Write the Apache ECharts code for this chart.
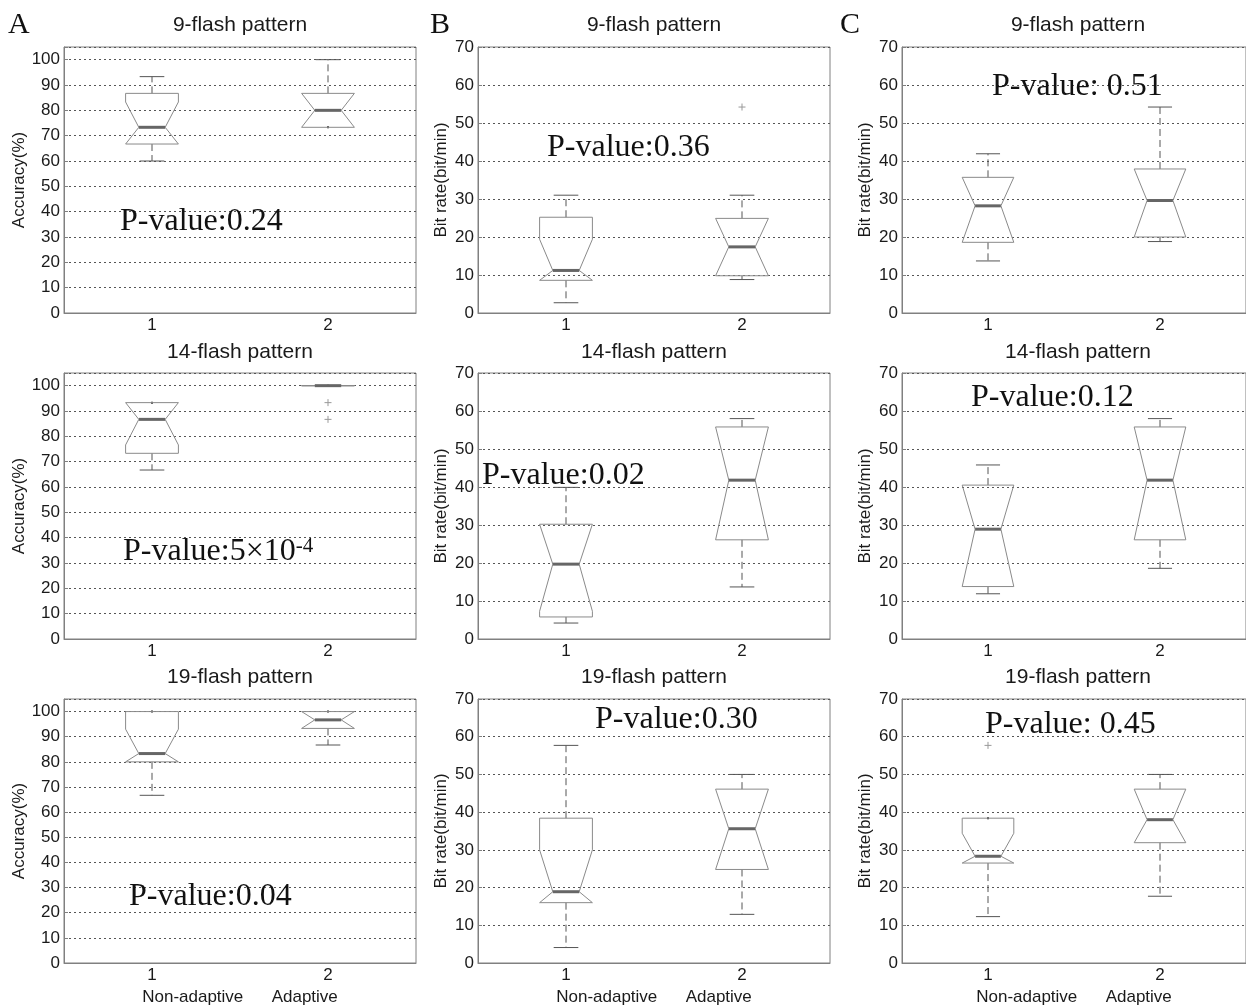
<!DOCTYPE html>
<html><head><meta charset="utf-8">
<script src="https://cdn.jsdelivr.net/npm/echarts@6/dist/echarts.min.js"></script>
<style>html,body{margin:0;padding:0;background:#fff;}#chart{width:1246px;height:1007px;}</style>
</head><body><div id="chart"></div>
<script>
// ---------- data ----------
const categories = ['1', '2'];
const groupNames = ['Non-adaptive', 'Adaptive'];
const rowTitles = ['9-flash pattern', '14-flash pattern', '19-flash pattern'];
const panelLetters = ['A', 'B', 'C'];
const yAxisNames = ['Accuracy(%)', 'Bit rate(bit/min)', 'Bit rate(bit/min)'];
const yAxisMax = [105, 70, 70];
const yTickStep = 10;

// stats per box: [whisker low, Q1, notch low, median, notch high, Q3, whisker high]
const accuracy9  = [[60, 66.7, 66.7, 73.3, 83.3, 86.7, 93.3], [73.3, 73.3, 73.3, 80, 86.7, 86.7, 100]];
const accuracy14 = [[66.7, 73.3, 76.6, 86.7, 93.3, 93.3, 93.3], [100, 100, 100, 100, 100, 100, 100]];
const accuracy19 = [[66.7, 80, 80, 83.3, 93.0, 100, 100], [86.7, 93.3, 93.3, 96.7, 100, 100, 100]];
const bitRateB9  = [[2.7, 8.6, 8.6, 11.2, 19.4, 25.2, 31.0], [8.8, 9.8, 9.8, 17.4, 24.9, 24.9, 31.0]];
const bitRateB14 = [[4.2, 5.8, 7.3, 19.7, 30.2, 30.2, 39.9], [13.7, 26.1, 26.1, 41.8, 55.8, 55.8, 58.0]];
const bitRateB19 = [[4.1, 16.0, 16.0, 18.9, 30.0, 38.4, 57.7], [12.9, 24.8, 24.8, 35.6, 46.1, 46.1, 50.0]];
const bitRateC9  = [[13.7, 18.6, 18.6, 28.2, 35.7, 35.7, 41.9], [18.8, 20.0, 20.0, 29.6, 37.9, 37.9, 54.2]];
const bitRateC14 = [[11.9, 13.8, 13.8, 28.9, 40.5, 40.5, 45.8], [18.6, 26.1, 26.1, 41.8, 55.8, 55.8, 58.0]];
const bitRateC19 = [[12.3, 26.5, 26.5, 28.3, 34.4, 38.4, 38.4], [17.7, 31.9, 31.9, 38.0, 46.1, 46.1, 50.0]];

// outliers per box
const outliersAcc14 = [[], [93.3, 86.7]];
const outliersB9 = [[], [54.2]];
const outliersC19 = [[57.7], []];

const pValueTexts = [
  ['P-value:0.24', 'P-value:0.36', 'P-value: 0.51'],
  ['P-value:5×10{sup|-4}', 'P-value:0.02', 'P-value:0.12'],
  ['P-value:0.04', 'P-value:0.30', 'P-value: 0.45']
];

// panels in row-major order
const panelStats = [accuracy9, bitRateB9, bitRateC9, accuracy14, bitRateB14, bitRateC14, accuracy19, bitRateB19, bitRateC19];
const panelOutliers = [[[], []], outliersB9, [[], []], outliersAcc14, [[], []], [[], []], [[], []], [[], []], outliersC19];

// ---------- layout ----------
const colLeft = [64, 478, 902];
const rowTop = [47, 373, 699];
const plotW = 352, plotH = 266;
const pPos = [ // [left x, cap-centre y]
  [[120, 222], [547, 148], [992, 87]],
  [[123, 552], [482, 476], [971, 398]],
  [[129, 897], [595, 720], [985, 725]]
];
const SANS = 'Liberation Sans, Arial, sans-serif';
const SERIF = 'Liberation Serif, Times New Roman, serif';

function renderBox(params, api) {
  const ci = api.value(0);
  const band = api.size([1, 0])[0];
  const w = band * 0.15, cw = band * 0.07;
  const x = api.coord([ci, 0])[0];
  const Y = v => api.coord([ci, v])[1];
  const wLo = api.value(1), q1 = api.value(2), nLo = api.value(3), med = api.value(4),
        nHi = api.value(5), q3 = api.value(6), wHi = api.value(7);
  const pts = [
    [x - w, Y(q1)], [x - w, Y(nLo)], [x - w / 2, Y(med)], [x - w, Y(nHi)], [x - w, Y(q3)],
    [x + w, Y(q3)], [x + w, Y(nHi)], [x + w / 2, Y(med)], [x + w, Y(nLo)], [x + w, Y(q1)]
  ];
  const children = [];
  const wStyle = { stroke: '#555', lineWidth: 1, lineDash: [7, 4] };
  const cStyle = { stroke: '#555', lineWidth: 1 };
  if (wHi > q3) {
    children.push({ type: 'line', shape: { x1: x, y1: Y(q3), x2: x, y2: Y(wHi) }, style: wStyle });
    children.push({ type: 'line', shape: { x1: x - cw, y1: Y(wHi), x2: x + cw, y2: Y(wHi) }, style: cStyle });
  } else {
    children.push({ type: 'rect', shape: { x: x - 1, y: Y(wHi) - 1, width: 2, height: 2 }, style: { fill: '#333' } });
  }
  if (wLo < q1) {
    children.push({ type: 'line', shape: { x1: x, y1: Y(q1), x2: x, y2: Y(wLo) }, style: wStyle });
    children.push({ type: 'line', shape: { x1: x - cw, y1: Y(wLo), x2: x + cw, y2: Y(wLo) }, style: cStyle });
  } else if (q1 !== q3) {
    children.push({ type: 'rect', shape: { x: x - 1, y: Y(wLo) - 1, width: 2, height: 2 }, style: { fill: '#333' } });
  }
  children.push({ type: 'polygon', shape: { points: pts }, style: { fill: 'none', stroke: '#8a8a8a', lineWidth: 1 } });
  children.push({ type: 'line', shape: { x1: x - w / 2, y1: Y(med), x2: x + w / 2, y2: Y(med) }, style: { stroke: '#666', lineWidth: 3 } });
  return { type: 'group', children };
}

function renderOutlier(params, api) {
  const p = api.coord([api.value(0), api.value(1)]);
  const s = 3.5;
  return { type: 'group', children: [
    { type: 'line', shape: { x1: p[0] - s, y1: p[1], x2: p[0] + s, y2: p[1] }, style: { stroke: '#999', lineWidth: 1 } },
    { type: 'line', shape: { x1: p[0], y1: p[1] - s, x2: p[0], y2: p[1] + s }, style: { stroke: '#999', lineWidth: 1 } }
  ]};
}

const grids = [], xAxes = [], yAxes = [], series = [], graphics = [];
for (let r = 0; r < 3; r++) {
  for (let c = 0; c < 3; c++) {
    const i = r * 3 + c;
    grids.push({ left: colLeft[c], top: rowTop[r], width: plotW, height: plotH, show: true, borderColor: '#808080', borderWidth: 1 });
    xAxes.push({
      type: 'category', gridIndex: i, data: categories,
      axisLine: { lineStyle: { color: '#808080' } },
      axisTick: { alignWithLabel: true, inside: true, length: 4, lineStyle: { color: '#808080' } },
      axisLabel: { fontSize: 17, fontFamily: SANS, color: '#1a1a1a', margin: 4 },
      name: r === 2 ? groupNames.join('      ') : '',
      nameLocation: 'middle', nameGap: 26,
      nameTextStyle: { fontSize: 17, fontFamily: SANS, color: '#1a1a1a' }
    });
    yAxes.push({
      type: 'value', gridIndex: i, min: 0, max: yAxisMax[c], interval: yTickStep,
      axisLine: { show: true, lineStyle: { color: '#808080' } },
      axisTick: { show: true, inside: true, length: 4, lineStyle: { color: '#808080' } },
      axisLabel: { fontSize: 17, fontFamily: SANS, color: '#1a1a1a', margin: 4,
                   formatter: v => (v % yTickStep === 0 ? String(v) : '') },
      splitLine: { show: true, lineStyle: { color: '#555', width: 1, type: [2, 3] } },
      name: yAxisNames[c], nameLocation: 'middle', nameGap: c === 0 ? 36 : 28, nameRotate: 90,
      nameTextStyle: { fontSize: 17, fontFamily: SANS, color: '#1a1a1a' }
    });
    const stats = panelStats[i];
    series.push({
      type: 'custom', xAxisIndex: i, yAxisIndex: i, renderItem: renderBox,
      encode: { x: 0, y: [1, 2, 3, 4, 5, 6, 7] },
      data: stats.map((s, k) => [k, ...s]), z: 5
    });
    const outs = [];
    panelOutliers[i].forEach((arr, k) => arr.forEach(v => outs.push([k, v])));
    if (outs.length) {
      series.push({ type: 'custom', xAxisIndex: i, yAxisIndex: i, renderItem: renderOutlier,
        encode: { x: 0, y: 1 }, data: outs, z: 6 });
    }
    // P-value annotation
    graphics.push({
      type: 'text', left: pPos[r][c][0], top: pPos[r][c][1] - 16, z: 100,
      style: { text: pValueTexts[r][c], fontSize: 32, fontFamily: SERIF, fill: '#111',
               lineHeight: 32,
               rich: { sup: { fontSize: 21, fontFamily: SERIF, fill: '#111', lineHeight: 18, verticalAlign: 'top' } } }
    });
    // panel title
    graphics.push({
      type: 'text', x: colLeft[c] + plotW / 2, y: [25.5, 352.5, 677.5][r], z: 100,
      style: { text: rowTitles[r], fontSize: 21, fontFamily: SANS, fill: '#1a1a1a', align: 'center', verticalAlign: 'middle' }
    });
  }
}
[8, 430, 840].forEach((x, c) => graphics.push({
  type: 'text', x: x, y: 25, z: 100,
  style: { text: panelLetters[c], fontSize: 30, fontFamily: SERIF, fill: '#111', verticalAlign: 'middle' }
}));

const chart = echarts.init(document.getElementById('chart'), null, { renderer: 'canvas' });
chart.setOption({
  animation: false, backgroundColor: '#fff',
  grid: grids, xAxis: xAxes, yAxis: yAxes, series: series, graphic: graphics
});
</script></body></html>
